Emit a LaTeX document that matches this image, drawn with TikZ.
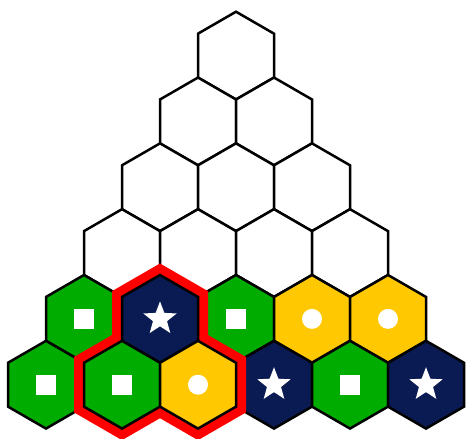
\documentclass[tikz,border=0pt]{standalone}
\usetikzlibrary{calc}
\definecolor{hgreen}{RGB}{0,172,0}
\definecolor{hnavy}{RGB}{10,26,82}
\definecolor{hyellow}{RGB}{255,200,0}
\definecolor{hred}{RGB}{255,0,0}
\newcommand\hexcellat[2]{\filldraw[hexcell,fill=#2] ($(#1)+(0,-43.88)$) -- ($(#1)+(38,-21.94)$) -- ($(#1)+(38,21.94)$) -- ($(#1)+(0,43.88)$) -- ($(#1)+(-38,21.94)$) -- ($(#1)+(-38,-21.94)$) -- cycle;}
\newcommand\hexsq[1]{\fill[symb] ($(#1)+(-10,-10)$) rectangle ($(#1)+(10,10)$);}
\newcommand\hexdot[1]{\fill[symb] (#1) circle (10);}
\newcommand\hexstar[1]{\fill[symb] ($(#1)+(-90:17.5)$) -- ($(#1)+(-54:7.4)$) -- ($(#1)+(-18:17.5)$) -- ($(#1)+(18:7.4)$) -- ($(#1)+(54:17.5)$) -- ($(#1)+(90:7.4)$) -- ($(#1)+(126:17.5)$) -- ($(#1)+(162:7.4)$) -- ($(#1)+(198:17.5)$) -- ($(#1)+(234:7.4)$) -- cycle;}
\tikzset{
  hexcell/.style={draw=black,line width=2.5pt,line join=miter},
  symb/.style={white},
  selring/.style={draw=hred,line width=20pt,line join=miter}
}
\begin{document}
\begin{tikzpicture}[x=1pt,y=-1pt]
\useasboundingbox (0,0) rectangle (466,439);
% centres
\foreach \r in {1,...,6} {
  \foreach \k in {1,...,\r} {
    \pgfmathsetmacro\cx{236-(\r-1)*38+(\k-1)*76}
    \pgfmathsetmacro\cy{55.6+(\r-1)*65.82}
    \coordinate (h\r\k) at (\cx,\cy);
  }
}
% white cells
\foreach \n in {11,21,22,31,32,33,41,42,43,44} {\hexcellat{h\n}{white}}
% coloured cells
\hexcellat{h51}{hgreen}\hexsq{h51}
\hexcellat{h52}{hnavy}\hexstar{h52}
\hexcellat{h53}{hgreen}\hexsq{h53}
\hexcellat{h54}{hyellow}\hexdot{h54}
\hexcellat{h55}{hyellow}\hexdot{h55}
\hexcellat{h61}{hgreen}\hexsq{h61}
\hexcellat{h62}{hgreen}\hexsq{h62}
\hexcellat{h63}{hyellow}\hexdot{h63}
\hexcellat{h64}{hnavy}\hexstar{h64}
\hexcellat{h65}{hgreen}\hexsq{h65}
\hexcellat{h66}{hnavy}\hexstar{h66}
% selection ring
\draw[selring] ($(h52)+(0,-43.88)$) -- ($(h52)+(38,-21.94)$) -- ($(h52)+(38,21.94)$)
  -- ($(h63)+(38,-21.94)$) -- ($(h63)+(38,21.94)$) -- ($(h63)+(0,43.88)$)
  -- ($(h63)+(-38,21.94)$) -- ($(h62)+(0,43.88)$) -- ($(h62)+(-38,21.94)$)
  -- ($(h62)+(-38,-21.94)$) -- ($(h52)+(-38,21.94)$) -- ($(h52)+(-38,-21.94)$) -- cycle;
% selected cells on top
\hexcellat{h52}{hnavy}\hexstar{h52}
\hexcellat{h62}{hgreen}\hexsq{h62}
\hexcellat{h63}{hyellow}\hexdot{h63}
\end{tikzpicture}
\end{document}
